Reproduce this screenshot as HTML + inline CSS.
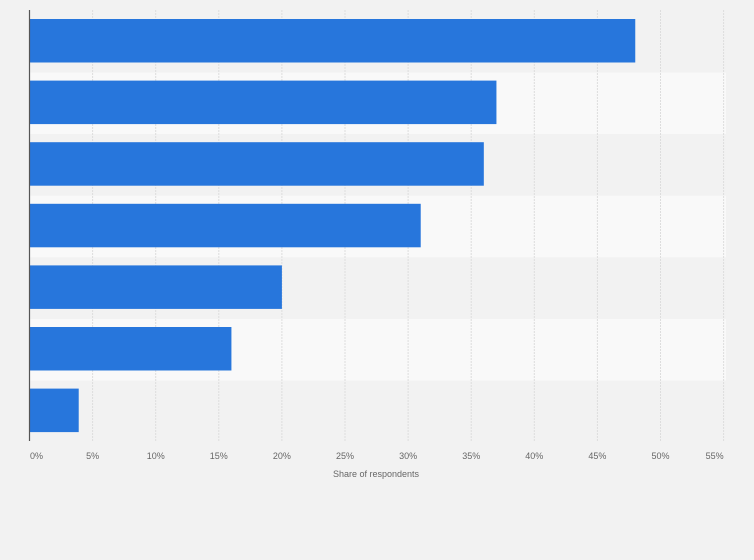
<!DOCTYPE html>
<html><head><meta charset="utf-8"><style>
body{margin:0;background:#f2f2f2;font-family:"Liberation Sans",Arial,sans-serif;}
svg{display:block}
</style></head><body>
<svg id="chart" width="754" height="560" xmlns="http://www.w3.org/2000/svg">
<rect width="754" height="560" fill="#f2f2f2"/>
<g id="bands"></g><g id="grid"></g><g id="bars"></g><g id="ticks"></g>
<line x1="29.5" y1="10" x2="29.5" y2="441" stroke="#555" stroke-width="1.2"/>
<text x="376" y="477" font-size="9" fill="#666" text-anchor="middle">Share of respondents</text>
</svg>
<script>
const categories=["Item 1","Item 2","Item 3","Item 4","Item 5","Item 6","Item 7"];
const values=[48,37,36,31,20,16,3.9];
const tickValues=[0,5,10,15,20,25,30,35,40,45,50,55];
const tickLabels=["0%","5%","10%","15%","20%","25%","30%","35%","40%","45%","50%","55%"];
const NS="http://www.w3.org/2000/svg";
const x=v=>29.5+v*12.62;
const top0=11,pitch=61.6;
const y=i=>top0+i*pitch;
function mk(tag,attrs,parent){const e=document.createElementNS(NS,tag);for(const k in attrs)e.setAttribute(k,attrs[k]);document.getElementById(parent).appendChild(e);return e;}
categories.forEach((c,i)=>{
  const b=mk('rect',{x:30,y:y(i),width:696,height:pitch,fill:i%2?'#f9f9f9':'#f2f2f2'},'bands');
  
  
});
tickValues.forEach((t,i)=>{
  if(t>0){const g=mk('line',{x1:x(t),y1:10,x2:x(t),y2:441,stroke:'#ddd','stroke-dasharray':'2,1'},'grid');
  
  }
  let off=0;
  if(i===0)off=7;
  if(i===tickValues.length-1)off=-9;
  const tl=mk('text',{x:x(t)+off,y:459,'font-size':9,fill:'#666','text-anchor':'middle'},'ticks');
  tl.textContent=tickLabels[i];
  
  
});
values.forEach((v,i)=>{
  const r=mk('rect',{x:30,y:y(i)+8,width:x(v)-30,height:43.5,fill:'#2776dc'},'bars');
  
  
});
</script>
</body></html>
